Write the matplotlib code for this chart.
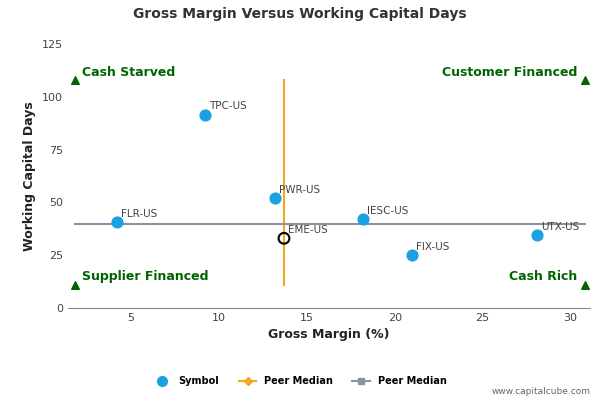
import matplotlib
matplotlib.use("Agg")
import matplotlib.pyplot as plt
from matplotlib.lines import Line2D

names = ["FLR-US", "TPC-US", "PWR-US", "IESC-US", "FIX-US", "UTX-US"]
gross_margin = [4.2, 9.2, 13.2, 18.2, 21.0, 28.1]
wc_days = [40.5, 91.5, 52, 42, 25, 34.5]
focus_name = "EME-US"
focus_x, focus_y = 13.7, 33
median_x = 13.7
median_y = 40
corner_labels = ["Cash Starved", "Customer Financed", "Supplier Financed", "Cash Rich"]
xlim = (1.4, 31.1)
ylim = (0, 125)

fig = plt.figure(figsize=(6, 4), dpi=100)
ax = fig.add_axes([0.113, 0.23, 0.87, 0.66])
ax.set_xlim(*xlim); ax.set_ylim(*ylim)
ax.set_xticks([5, 10, 15, 20, 25, 30]); ax.set_yticks([0, 25, 50, 75, 100, 125])
ax.tick_params(labelsize=8, colors="#444444", length=0)
for s in ["top", "right"]:
    ax.spines[s].set_visible(False)
ax.spines["left"].set_visible(False)
ax.spines["bottom"].set_color("#888888")

ax.plot([median_x, median_x], [11, 108], color="#f5a623", lw=1.5, zorder=2)
ax.plot([1.8, 30.8], [median_y, median_y], color="#8a93a3", lw=1.5, zorder=2)
ax.scatter(gross_margin, wc_days, s=60, color="#1ba1e2", zorder=3)
for n, x, y in zip(names, gross_margin, wc_days):
    ax.annotate(n, (x, y), xytext=(3, 4), textcoords="offset points", fontsize=7.5, color="#444444")
ax.scatter([focus_x], [focus_y], s=60, facecolor="none", edgecolor="black", lw=1.5, zorder=4)
ax.annotate(focus_name, (focus_x, focus_y), xytext=(3, 4), textcoords="offset points", fontsize=7.5, color="#444444")

green = "#006400"
ax.scatter([1.8, 30.8, 1.8, 30.8], [108, 108, 11, 11], marker="^", s=30, color=green, zorder=3)
ax.text(2.2, 108.5, corner_labels[0], color=green, fontsize=9, fontweight="bold", ha="left", va="bottom")
ax.text(30.4, 108.5, corner_labels[1], color=green, fontsize=9, fontweight="bold", ha="right", va="bottom")
ax.text(2.2, 12, corner_labels[2], color=green, fontsize=9, fontweight="bold", ha="left", va="bottom")
ax.text(30.4, 12, corner_labels[3], color=green, fontsize=9, fontweight="bold", ha="right", va="bottom")

ax.set_xlabel("Gross Margin (%)", fontsize=9, fontweight="bold", color="#222222")
ax.set_ylabel("Working Capital Days", fontsize=9, fontweight="bold", color="#222222")
fig.text(0.5, 0.955, "Gross Margin Versus Working Capital Days", ha="center", fontsize=10, fontweight="bold", color="#333333")

handles = [Line2D([], [], marker="o", ls="none", color="#1ba1e2", markersize=7),
           Line2D([], [], marker="D", color="#f5a623", markersize=4),
           Line2D([], [], marker="s", color="#8a93a3", markersize=5)]
fig.legend(handles, ["Symbol", "Peer Median", "Peer Median"], loc="center", bbox_to_anchor=(0.5, 0.047),
           ncol=3, frameon=False, prop={"size": 7, "weight": "bold"}, handlelength=1.8)
fig.text(0.985, 0.015, "www.capitalcube.com", ha="right", fontsize=6.5, color="#666666")
fig.savefig("out.png", dpi=100)
